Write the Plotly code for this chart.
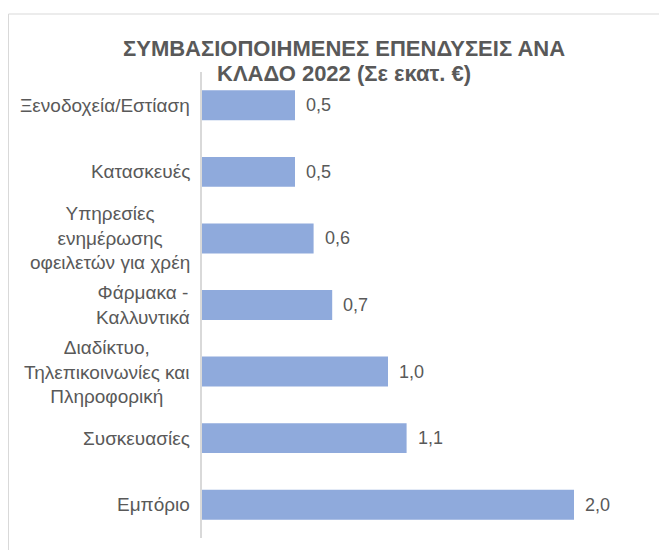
import plotly.graph_objects as go

# Data (million €), top to bottom as shown in the chart
categories = [
    "Ξενοδοχεία/Εστίαση",
    "Κατασκευές",
    "Υπηρεσίες<br>ενημέρωσης<br>οφειλετών για χρέη",
    "Φάρμακα -<br>Καλλυντικά",
    "Διαδίκτυο,<br>Τηλεπικοινωνίες και<br>Πληροφορική",
    "Συσκευασίες",
    "Εμπόριο",
]
values = [0.5, 0.5, 0.6, 0.7, 1.0, 1.1, 2.0]
labels = [f"{v:.1f}".replace(".", ",") for v in values]
title_lines = ["ΣΥΜΒΑΣΙΟΠΟΙΗΜΕΝΕΣ ΕΠΕΝΔΥΣΕΙΣ ΑΝΑ", "ΚΛΑΔΟ 2022 (Σε εκατ. €)"]

bar_color = "#8FAADC"
text_color = "#595959"
border_color = "#D9D9D9"
font_family = "Liberation Sans, Arial, sans-serif"

# page body adds an 8px offset, so the figure is 8px smaller than the window
W, H = 659, 542
ml, mr, mt, mb = 194, 0, 64, 12
pw = W - ml - mr
ph = H - mt - mb

fig = go.Figure(go.Bar(
    x=values,
    y=categories,
    orientation="h",
    marker=dict(color=bar_color, line=dict(width=0)),
    width=0.45,
    hoverinfo="skip",
))

# category labels, centred lines like Excel
for cat in categories:
    fig.add_annotation(
        x=0, y=cat, xref="x", yref="y",
        text=cat, showarrow=False,
        xanchor="right", yanchor="middle", align="center",
        xshift=-10,
        font=dict(size=19, color=text_color, family=font_family),
    )

# data labels
for cat, v, lab in zip(categories, values, labels):
    fig.add_annotation(
        x=v, y=cat, xref="x", yref="y",
        text=lab, showarrow=False,
        xanchor="left", yanchor="middle",
        xshift=9,
        font=dict(size=18, color=text_color, family=font_family),
    )

# title, two lines placed separately for tighter spacing
for i, line in enumerate(title_lines):
    fig.add_annotation(
        x=(336 - ml) / pw, y=1 + (mt - (40 + 25 * i)) / ph,
        xref="paper", yref="paper",
        text=f"<b>{line}</b>", showarrow=False,
        xanchor="center", yanchor="middle",
        font=dict(size=22, color=text_color, family=font_family),
    )

# chart border: only top and left edges are visible in the reference
bx0 = (0.5 - ml) / pw
by_top = 1 + (mt - 6) / ph
fig.add_shape(type="line", xref="paper", yref="paper",
              x0=bx0, x1=1, y0=by_top, y1=by_top,
              line=dict(color=border_color, width=1))
fig.add_shape(type="line", xref="paper", yref="paper",
              x0=bx0, x1=bx0, y0=-mb / ph, y1=by_top,
              line=dict(color=border_color, width=1))

fig.update_layout(
    width=W, height=H,
    margin=dict(l=ml, r=mr, t=mt, b=mb),
    paper_bgcolor="white",
    plot_bgcolor="white",
    showlegend=False,
    xaxis=dict(
        range=[0, 2.5],
        showgrid=False, zeroline=False, showticklabels=False,
        showline=False, ticks="",
    ),
    yaxis=dict(
        autorange="reversed",
        showgrid=False, zeroline=False, showticklabels=False,
        showline=True, linecolor=border_color, linewidth=1.5,
        ticks="",
    ),
)

fig.write_html("out.html")
